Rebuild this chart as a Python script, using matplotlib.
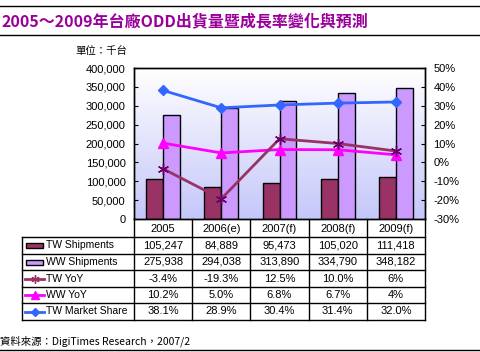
"""2005~2009 Taiwan ODD shipments and growth -- bar/line combo with data table."""

import numpy as np
import matplotlib
matplotlib.use("Agg")
import matplotlib.pyplot as plt
from matplotlib.lines import Line2D
from matplotlib.patches import Rectangle

plt.rcParams["font.family"] = ["Liberation Sans", "Noto Sans CJK TC", "DejaVu Sans"]

years = ["2005", "2006(e)", "2007(f)", "2008(f)", "2009(f)"]
tw_ship = [105247, 84889, 95473, 105020, 111418]
ww_ship = [275938, 294038, 313890, 334790, 348182]
tw_yoy = [-3.4, -19.3, 12.5, 10.0, 6.0]
ww_yoy = [10.2, 5.0, 6.8, 6.7, 4.0]
tw_share = [38.1, 28.9, 30.4, 31.4, 32.0]
tw_yoy_labels = ["-3.4%", "-19.3%", "12.5%", "10.0%", "6%"]
ww_yoy_labels = ["10.2%", "5.0%", "6.8%", "6.7%", "4%"]
share_labels = ["38.1%", "28.9%", "30.4%", "31.4%", "32.0%"]

C_TW = "#993366"
C_WW = "#cc99ff"
C_WWYOY = "#ff00ff"
C_SHARE = "#3366ff"
TITLE_C = "#990099"
CJK = ["Noto Sans CJK TC", "DejaVu Sans"]

W, H = 480, 352
fig = plt.figure(figsize=(W / 100, H / 100), dpi=100)

# plot area in pixels
x0, x1, y0, y1 = 134, 425, 68, 219
ax = fig.add_axes([x0 / W, 1 - y1 / H, (x1 - x0) / W, (y1 - y0) / H])
x = np.arange(len(years))

# lavender-to-white background
grad = np.linspace(0, 1, 256).reshape(-1, 1)
top = np.array([0.77, 0.78, 0.98])
rgb = top[None, None, :] * (1 - grad[:, :, None]) + np.ones(3)[None, None, :] * grad[:, :, None]
ax.imshow(rgb, extent=[0, 1, 1, 0], transform=ax.transAxes, aspect="auto", zorder=0)

bw = 0.29
ax.bar(x - bw / 2, tw_ship, bw, color=C_TW, edgecolor="black", linewidth=1, zorder=2)
ax.bar(x + bw / 2, ww_ship, bw, color=C_WW, edgecolor="black", linewidth=1, zorder=2)
ax.set_xlim(-0.5, len(years) - 0.5)
ax.set_ylim(0, 400000)
ax.set_yticks(range(0, 400001, 50000))
ax.set_yticklabels([f"{v:,}" for v in range(0, 400001, 50000)], fontsize=8)
ax.set_xticks([])
ax.tick_params(axis="y", direction="in", length=3, pad=6)

ax2 = ax.twinx()
ax2.plot(x, tw_share, color=C_SHARE, lw=2, marker="D", ms=5, zorder=3)
ax2.plot(x, ww_yoy, color=C_WWYOY, lw=2, marker="^", ms=7, zorder=3)
ax2.plot(x, tw_yoy, color=C_TW, lw=2, marker=(6, 2, 0), ms=8, mec="#660066",
         mew=1, zorder=4)
ax2.set_ylim(-30, 50)
ax2.set_yticks(range(-30, 51, 10))
ax2.set_yticklabels([f"{v}%" for v in range(-30, 51, 10)], fontsize=8)
ax2.tick_params(axis="y", direction="in", length=3, pad=6)
for a in (ax, ax2):
    for s in a.spines.values():
        s.set_linewidth(1)

# overlay in pixel coordinates for title, table, notes
ov = fig.add_axes([0, 0, 1, 1])
ov.set_xlim(0, W)
ov.set_ylim(H, 0)
ov.axis("off")

ov.plot([0, W], [6, 6], color="black", lw=1)
ov.plot([0, W], [35, 35], color="black", lw=1)
ov.plot([0, W], [350, 350], color="black", lw=1)
ov.text(1, 21, "2005～2009年台廠ODD出貨量暨成長率變化與預測", color=TITLE_C,
        fontsize=11.5, fontweight="bold", va="center", ha="left", family=CJK)
ov.text(75, 51, "單位：千台", fontsize=7.5, va="center", ha="left", family=CJK)
ov.text(0, 341, "資料來源：DigiTimes Research，2007/2", fontsize=7.5,
        va="center", ha="left", family=CJK)

tl = 22
col_w = (x1 - x0) / len(years)
rows = [237, 254, 270, 287, 303, 320]

# header row and grid
for i in range(len(years) + 1):
    xx = x0 + i * col_w
    ov.plot([xx, xx], [y1, rows[-1]], color="black", lw=1)
for i, yr in enumerate(years):
    ov.text(x0 + (i + 0.5) * col_w, 228.5, yr, fontsize=8, ha="center", va="center")
for r in rows:
    ov.plot([tl, x1], [r, r], color="black", lw=1)
ov.plot([tl, tl], [rows[0], rows[-1]], color="black", lw=1)

labels = ["TW Shipments", "WW Shipments", "TW YoY", "WW YoY", "TW Market Share"]
cells = [
    [f"{v:,}" for v in tw_ship],
    [f"{v:,}" for v in ww_ship],
    tw_yoy_labels,
    ww_yoy_labels,
    share_labels,
]
for k in range(5):
    yc = (rows[k] + rows[k + 1]) / 2
    ov.text(46, yc, labels[k], fontsize=7.5, ha="left", va="center")
    for i, c in enumerate(cells[k]):
        ov.text(x0 + (i + 0.5) * col_w, yc, c, fontsize=8, ha="center", va="center")

# legend keys
for k, col in enumerate([C_TW, C_WW]):
    yc = (rows[k] + rows[k + 1]) / 2
    ov.add_patch(Rectangle((26, yc - 2.5), 17, 5, facecolor=col, edgecolor="black", lw=1))
line_keys = [(C_TW, (6, 2, 0), 6), (C_WWYOY, "^", 6), (C_SHARE, "D", 4)]
for k, (col, mk, ms) in enumerate(line_keys, start=2):
    yc = (rows[k] + rows[k + 1]) / 2
    ov.add_line(Line2D([25, 44], [yc, yc], color=col, lw=2))
    ov.add_line(Line2D([34.5], [yc], color=col, marker=mk, ms=ms, lw=0))

fig.savefig("out.png", dpi=100)
